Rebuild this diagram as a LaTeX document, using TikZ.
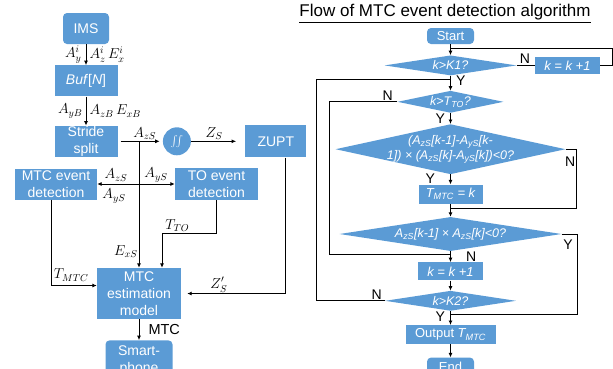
\documentclass[tikz,border=0pt]{standalone}
\usepackage{fontspec}
\setmainfont{Liberation Sans}
\usepackage{amsmath}
\usetikzlibrary{arrows.meta,positioning,shapes.geometric,calc}
\definecolor{boxblue}{HTML}{5B9BD5}
\definecolor{ink}{HTML}{000000}
\tikzset{
  >={Latex[length=4.5pt,width=4pt]},
  every node/.style={text=ink},
  blk/.style={fill=boxblue,text=white,align=center,inner sep=0pt,font=\fontsize{14}{17}\selectfont},
  rblk/.style={blk,rounded corners=4pt},
  flowblk/.style={blk,font=\fontsize{13}{15}\selectfont\itshape},
  dec/.style={diamond,aspect=1,fill=boxblue,text=white,align=center,inner sep=0pt,font=\fontsize{12.5}{15}\selectfont\itshape},
  lbl/.style={font=\fontsize{14.5}{16}\selectfont,inner sep=1pt},
  yn/.style={font=\fontsize{14}{16}\selectfont,inner sep=1pt},
  arr/.style={->,line width=1pt},
  wire/.style={line width=1pt},
}
\newcommand{\ztext}[1]{\makebox[0pt]{#1}}
\newcommand{\ssub}[1]{\textsubscript{#1}}

\begin{document}
\begin{tikzpicture}[x=1pt,y=-1pt]
\useasboundingbox (0,0) rectangle (613,368);

% sensor side
\node[rblk,minimum width=46pt,minimum height=31pt] (ims) at (86,28.5) {IMS};
\node[blk,minimum width=63pt,minimum height=31pt,below=21pt of ims] (buf) {\textit{Buf}[\textit{N}]};
\node[blk,minimum width=63pt,minimum height=31pt,below=29pt of buf] (stride) {Stride\\split};
\node[circle,fill=boxblue,text=white,minimum size=28pt,inner sep=0pt,right=45pt of stride] (integ)
{\fontsize{11}{13}\selectfont$\iint$};
\node[blk,minimum width=61pt,minimum height=32pt,right=54pt of integ] (zupt) {ZUPT};
\node[blk,minimum width=82pt,minimum height=31pt] (mtcev) at (56,184) {MTC event\\detection};
\node[blk,minimum width=83pt,minimum height=32pt] (toev) at (216.5,184) {TO event\\detection};
\node[blk,minimum width=84pt,minimum height=51pt] (mtcest) at (139,293.5) {MTC\\estimation\\model};
\node[rblk,minimum width=67pt,minimum height=40pt,below=21pt of mtcest] (phone) {Smart-\\phone};

\draw[arr] (ims) -- (buf) node[lbl,midway,left=3pt] (ayi) {$A_y^i$} node[lbl,midway,right=2pt] (azi) {$A_z^i\,E_x^i$};
\draw[arr] (buf) -- (stride) node[lbl,midway,left=2pt] (ayb) {$A_{yB}$} node[lbl,midway,right=2pt] (azb) {$A_{zB}\,E_{xB}$};
\coordinate (tap) at (mtcest.north |- stride.east);
\draw[arr,shorten <=3pt,shorten >=3pt] (stride) -- (integ) node[lbl,pos=0.6,above] (azs) {$A_{zS}$};
\draw[arr,shorten >=9pt] (integ) -- (zupt) node[lbl,midway,above,xshift=-4pt] (zs) {$Z_S$};
\draw[arr] (tap) -- (mtcest.north) node[lbl,pos=0.87,left] (exs) {$E_{xS}$};
\draw[arr,<->] (mtcev) -- (toev);
\node[lbl] (lazs) at (116,175) {$A_{zS}$};
\node[lbl] (lays) at (114,196) {$A_{yS}$};
\node[lbl] (rays) at (156,175) {$A_{yS}$};
\draw[arr] (toev.south) -- ++(0,33) -| ([xshift=23pt]mtcest.north) node[lbl,pos=0.36,above] (tto) {$T_{TO}$};
\draw[arr] ([xshift=-5pt]mtcev.south) |- ([yshift=8pt]mtcest.west) node[lbl,pos=0.72,above,yshift=3pt] (lmtc) {$T_{MTC}$};
\draw[arr,shorten >=6pt] ([xshift=10pt]zupt.south) |- (mtcest.east) node[lbl,pos=0.82,above] (zps) {$Z'_S$};
\draw[arr] (mtcest) -- (phone) node[lbl,midway,right=8pt] (mtcout) {MTC};

% detection flow
\node[font=\fontsize{17}{20}\selectfont] (title) at (445,14) {\underline{Flow of MTC event detection algorithm}};
\node[rblk,font=\fontsize{13}{15}\selectfont,minimum width=47pt,minimum height=16pt] (start) at (450.5,36) {Start};
\node[dec,minimum width=132pt,minimum height=20pt,below=11pt of start] (d1) {\ztext{k>K1?}};
\node[flowblk,minimum width=65pt,minimum height=17pt,right=18pt of d1] (inc1) {k = k +1};
\node[dec,minimum width=106pt,minimum height=22pt,below=15pt of d1] (d2) {\ztext{k>T\ssub{TO}?}};
\node[dec,minimum width=230pt,minimum height=50pt,below=11pt of d2] (d3)
{\ztext{(A\ssub{zS}[k-1]-A\ssub{yS}[k-}\\\ztext{1]) × (A\ssub{zS}[k]-A\ssub{yS}[k])<0?}};
\node[flowblk,minimum width=64pt,minimum height=19pt,below=10pt of d3] (tmtc) {T\ssub{MTC} = k};
\node[dec,minimum width=222pt,minimum height=34pt,below=13pt of tmtc] (d4) {\ztext{A\ssub{zS}[k-1] × A\ssub{zS}[k]<0?}};
\node[flowblk,minimum width=65pt,minimum height=18pt,below=11pt of d4] (inc2) {k = k +1};
\node[dec,minimum width=131pt,minimum height=20pt,below=10pt of inc2] (d5) {\ztext{k>K2?}};
\node[flowblk,minimum width=90pt,minimum height=19pt,below=14pt of d5] (out) {\upshape Output \itshape T\ssub{MTC}};
\node[rblk,font=\fontsize{13}{15}\selectfont,minimum width=47pt,minimum height=18pt,below=13pt of out] (fin) {End};

\coordinate (j1) at ([yshift=-4pt]start.south);
\coordinate (j2) at ([yshift=-4pt]d1.south);
\coordinate (j3) at ([yshift=-5pt]tmtc.south);
\coordinate (j4) at ([yshift=-3pt]d4.south);
\coordinate (j5) at ([yshift=-3pt]d5.south);

\draw[arr] (start) -- (d1);
\draw[wire] (d1) -- (inc1) node[yn,pos=0.45,above] (n1) {N};
\draw[wire] (inc1.east) -- ++(12,0) |- (j1);
\draw[arr] (d1) -- (d2) node[yn,pos=0.33,right=4pt] (y1) {Y};
\draw[wire] (d5.west) -- ++(-68,0) node[yn,pos=0.12,above] (n5) {N} |- (j2);
\draw[wire] (d2.west) -- ++(-68,0) node[yn,pos=0.14,above] (n2) {N} |- (j4);
\draw[arr] (d2) -- (d3) node[yn,pos=0.5,left=4pt] (y2) {Y};
\draw[wire] (d3.east) -- ++(11,0) node[yn,pos=0.4,below=6pt] (n3) {N} |- (j3);
\draw[arr] (d3) -- (tmtc) node[yn,pos=0.4,left=14pt] (y3) {Y};
\draw[arr] (tmtc) -- (d4);
\draw[wire] (d4.east) -- ++(16,0) node[yn,pos=0.4,below=4pt] (y4) {Y} |- (j5);
\draw[arr] (d4) -- (inc2) node[yn,pos=0.5,right=14pt] (n4) {N};
\draw[arr] (inc2) -- (d5);
\draw[arr] (d5) -- (out) node[yn,pos=0.4,left=4pt] (y5) {Y};
\draw[arr] (out) -- (fin);

\end{tikzpicture}
\end{document}
